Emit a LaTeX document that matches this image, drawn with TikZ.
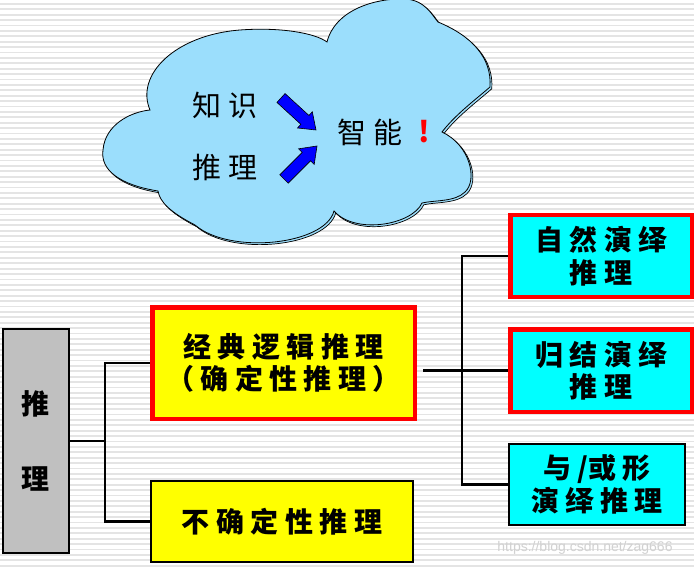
\documentclass[tikz,border=0pt]{standalone}
\usepackage{fontspec}
\newfontfamily\cjk{Noto Sans CJK SC}
\newfontfamily\wmfont{Liberation Sans}
\definecolor{cloudblue}{RGB}{155,222,252}
\definecolor{stripegray}{RGB}{228,228,228}
\definecolor{boxgray}{RGB}{192,192,192}
\definecolor{boxyellow}{RGB}{255,255,0}
\definecolor{boxcyan}{RGB}{0,255,255}
\definecolor{arrowblue}{RGB}{0,0,255}
\pgfdeclarelayer{bg}
\pgfdeclarelayer{lines}
\pgfsetlayers{bg,lines,main}
\def\cloudpath{(150,110) .. controls (135,75) and (175,35) .. (240,30) .. controls (280,27) and (315,33) .. (327,42) .. controls (335,10) and (375,-2) .. (405,-1) .. controls (425,0) and (432,15) .. (438,22) .. controls (472,36) and (492,58) .. (490,87) .. controls (475,100) and (455,115) .. (442,132) .. controls (470,145) and (478,180) .. (465,192) .. controls (455,202) and (435,200) .. (422,203) .. controls (412,225) and (355,235) .. (334,211) .. controls (325,245) and (230,255) .. (195,225) .. controls (172,213) and (160,203) .. (158,191) .. controls (120,185) and (100,170) .. (103,150) .. controls (105,125) and (130,112) .. (150,110) -- cycle}
\begin{document}
\begin{tikzpicture}[x=1pt,y=-1pt,
  stripe/.style={draw=stripegray,line width=1.8pt},
  boxbase/.style={draw=black,line width=2pt,inner sep=0pt,align=center,text=black,
    font=\cjk\bfseries\fontsize{28}{32.5}\selectfont},
  redbox/.style={boxbase,draw=red,line width=4.5pt},
  cloudtext/.style={inner sep=0pt,text=black,font=\cjk\fontsize{29}{34}\selectfont},
  conn/.style={draw=black,line width=2.8pt},
  blockarrow/.style={fill=arrowblue,draw=black,line width=0.6pt,line join=miter}]
\useasboundingbox (0,0) rectangle (694,567);
\begin{pgfonlayer}{bg}
  \fill[white] (0,0) rectangle (694,567);
  \foreach \i in {0,...,104} {\draw[stripe] (0,4+5.4*\i) -- (694,4+5.4*\i);}
\end{pgfonlayer}

% cloud with thin shadow
\draw[fill=cloudblue,draw=black,line width=0.7pt,shift={(1.8,1.8)}] \cloudpath;
\draw[fill=cloudblue,draw=black,line width=0.8pt] \cloudpath;

\node[cloudtext] (zs) at (225,105) {知 识};
\node[cloudtext] (tl) at (225,167) {推 理};
\node[cloudtext] (zn) at (370,132) {智 能};
\node[cloudtext,text=red,font=\cjk\bfseries\fontsize{29}{34}\selectfont] (exc) at (424,132) {!};

\draw[blockarrow] (276.95,102.43) -- (285.05,93.57) -- (308.95,115.47) -- (312.3,111.8) -- (316,130) -- (297.5,128.0) -- (300.85,124.33) -- cycle;
\draw[blockarrow] (288.2,183.2) -- (279.8,174.8) -- (302.2,152.4) -- (298.6,148.8) -- (317,146) -- (314.2,164.4) -- (310.6,160.8) -- cycle;

% boxes
\node[boxbase,fill=boxgray,minimum width=65.5pt,minimum height=224pt,
  font=\cjk\bfseries\fontsize{28}{75}\selectfont] (root) at (35.75,441) {推\\理};
\node[redbox,fill=boxyellow,minimum width=262.5pt,minimum height=111.5pt] (classic) at (283.5,363) {经 典 逻 辑 推 理\\（ 确 定 性 推 理 ）};
\node[boxbase,fill=boxyellow,minimum width=262pt,minimum height=81pt] (uncert) at (282,521.5) {不 确 定 性 推 理};
\node[redbox,fill=boxcyan,minimum width=181.5pt,minimum height=81.5pt] (nat) at (601,256) {自 然 演 绎\\推 理};
\node[redbox,fill=boxcyan,minimum width=181.5pt,minimum height=82.5pt] (res) at (601,370.5) {归 结 演 绎\\推 理};
\node[boxbase,fill=boxcyan,minimum width=176pt,minimum height=81pt] (andor) at (597,484.5) {与 /或 形\\演 绎 推 理};

% connectors
\coordinate (lt) at (105,441);
\coordinate (cj) at (423,370.5);
\coordinate (rt) at (462,370.5);
\begin{pgfonlayer}{lines}
  \draw[conn] (root.east) -- (lt);
  \draw[conn] (classic.west) -| (lt) |- (uncert.west);
  \draw[conn] (cj) -- (res.west);
  \draw[conn] (nat.west) -| (rt) |- (andor.west);
\end{pgfonlayer}

\node[inner sep=0pt,text=white!82!black,font=\wmfont\fontsize{14}{16}\selectfont] (wm) at (585,548) {https://blog.csdn.net/zag666};
\end{tikzpicture}
\end{document}
